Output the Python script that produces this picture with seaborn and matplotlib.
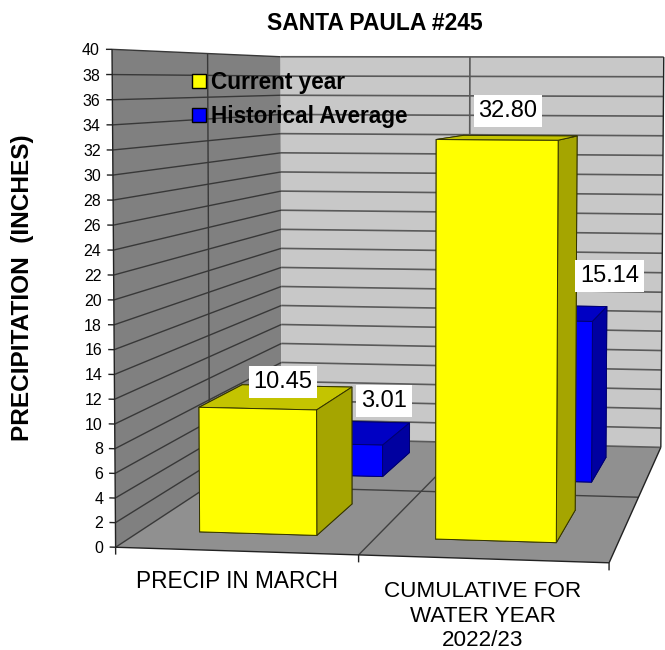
import numpy as np
import matplotlib
matplotlib.use("Agg")
import matplotlib.pyplot as plt
import seaborn as sns
from matplotlib.patches import Patch
from mpl_toolkits.mplot3d.art3d import Line3DCollection, Poly3DCollection

# data
categories = ["PRECIP IN MARCH", "CUMULATIVE FOR\nWATER YEAR\n2022/23"]
series_names = ["Current year", "Historical Average"]
current_year = [10.45, 32.80]
historical_avg = [3.01, 15.14]
y_ticks = list(range(0, 41, 2))

W, H = 665, 650
sns.set_theme(style="white")
plt.rcParams["font.family"] = ["Liberation Sans", "DejaVu Sans"]
plt.rcParams["text.color"] = "black"

yellow, blue = sns.color_palette(["#ffff00", "#0000ff"])
yellow_top, yellow_side = "#c4c400", "#a5a500"
blue_top, blue_side = "#0000c4", "#0000a0"

fig = plt.figure(figsize=(W / 100, H / 100), dpi=100, facecolor="white")
ax = fig.add_axes([-0.1, -0.1, 1.2, 1.2], projection="3d", computed_zorder=False)
ax.set_axis_off()
ax.patch.set_alpha(0)

# camera calibrated on the chart box: (category, depth, value) -> pixel
calib = [
    ((0, 0, 0), (116, 546)), ((0, 0, 40), (111.7, 50)),
    ((0, 2, 40), (281, 56.7)), ((0, 2, 0), (281, 439)),
    ((2, 2, 0), (661, 447)), ((2, 2, 40), (663, 57)),
    ((2, 0, 0), (610, 563)), ((1, 0, 0), (358, 556)),
    ((0, 1, 40), (207, 53)), ((0, 1, 0), (210, 485)),
    ((2, 1, 0), (638, 497)), ((1, 2, 40), (471, 57)),
]
rows = []
for (cx, cy, cz), (px, py) in calib:
    p = [cx, cy, cz / 40, 1]
    rows.append(p + [0, 0, 0, 0] + [-px * v for v in p])
    rows.append([0, 0, 0, 0] + p + [-py * v for v in p])
P = np.linalg.svd(np.array(rows, dtype=float))[2][-1].reshape(3, 4)
P[:, 2] /= 40
P /= P[2, 3]
depth_row = np.array([-1.0, 1.0, -0.02, 0.0])


def fixed_proj():
    to_data = ax.transData.inverted().get_matrix()
    flip = np.array([[1, 0, 0], [0, -1, H], [0, 0, 1.0]])
    xyw = to_data @ flip @ P
    return np.vstack([xyw[0], xyw[1], depth_row, xyw[2]])


def to_fig(x, y, z):
    px, py, w = P @ np.array([x, y, z, 1.0])
    return px / w / W, 1 - py / w / H


ax.get_proj = fixed_proj

# walls and floor
walls = [
    ([[(0, 0, 0), (0, 2, 0), (0, 2, 40), (0, 0, 40)]], "#808080"),
    ([[(0, 2, 0), (2, 2, 0), (2, 2, 40), (0, 2, 40)]], "#c8c8c8"),
    ([[(0, 0, 0), (2, 0, 0), (2, 2, 0), (0, 2, 0)]], "#909090"),
]
for verts, col in walls:
    ax.add_collection3d(Poly3DCollection(verts, facecolors=col, edgecolors="none", zorder=0.5))

left_segs = [[(0, 0, t), (0, 2, t)] for t in y_ticks] + [[(0, 1, 0), (0, 1, 40)]]
ax.add_collection3d(Line3DCollection(left_segs, colors="#383838", linewidths=1.0, zorder=1))
back_segs = [[(0, 2, t), (2, 2, t)] for t in y_ticks] + [[(1, 2, 0), (1, 2, 40)]]
ax.add_collection3d(Line3DCollection(back_segs, colors="#5a5a5a", linewidths=1.2, zorder=1))
floor_segs = [[(0, 1, 0), (2, 1, 0)], [(1, 0, 0), (1, 2, 0)]]
ax.add_collection3d(Line3DCollection(floor_segs, colors="#404040", linewidths=1.0, zorder=1))

edge_segs = [[(0, 0, 0), (2, 0, 0)], [(2, 0, 0), (2, 2, 0)], [(0, 0, 0), (0, 0, 40)], [(2, 2, 0), (2, 2, 40)]]
edge_segs += [[(-0.025, 0, t), (0, 0, t)] for t in y_ticks]
edge_segs += [[(c, 0, 0), (c, 0, -0.6)] for c in range(3)]
ax.add_collection3d(Line3DCollection(edge_segs, colors="#222222", linewidths=1.0, zorder=1))

for t in y_ticks:
    tx, ty = to_fig(-0.05, 0, t)
    fig.text(tx, ty - 1.5 / H, str(t), ha="right", va="center", fontsize=11.5)

# bars: blue row behind yellow row
bar_x = [0.25, 1.25]
bar_w = 0.5
bar_rows = [
    (historical_avg, 1.25, [blue, blue_top, blue, blue, blue_side, blue_side], "#000070", 3),
    (current_year, 0.25, [yellow, yellow_top, yellow, yellow, yellow_side, yellow_side], "#333300", 4),
]
for values, y0, colors, edge, z in bar_rows:
    for k, (x0, v) in enumerate(zip(bar_x, values)):
        ax.bar3d(x0, y0, 0, bar_w, 0.5, v, color=colors, shade=False,
                 edgecolor=edge, linewidth=0.7, zorder=z + k * 0.1)

# category labels, title, axis label
fig.text(237 / W, 1 - 582 / H, categories[0], ha="center", va="center", fontsize=16.3)
fig.text(483 / W, 1 - 616 / H, categories[1], ha="center", va="center", fontsize=16.2, linespacing=1.22)
fig.text(374.5 / W, 1 - 24 / H, "SANTA PAULA #245", ha="center", va="center", fontsize=16.5, fontweight="bold")
fig.text(23 / W, 1 - 288 / H, "PRECIPITATION  (INCHES)", rotation=90, ha="center", va="center",
         fontsize=17.6, fontweight="bold")

# value labels
label_pos = [(283, 382), (508, 111), (384, 401), (609.5, 276)]
for (lx, ly), v in zip(label_pos, current_year + historical_avg):
    fig.text(lx / W, 1 - ly / H, f"{v:.2f}", ha="center", va="center", fontsize=17,
             bbox=dict(facecolor="white", edgecolor="none", pad=3.6))

handles = [Patch(facecolor=yellow, edgecolor="black", lw=1.0, label=series_names[0]),
           Patch(facecolor=blue, edgecolor="black", lw=1.0, label=series_names[1])]
fig.legend(handles=handles, loc="upper left", bbox_to_anchor=(192 / W, 1 - 71 / H), frameon=False,
           prop=dict(size=16.3, weight="bold"), handlelength=0.6, handleheight=0.6,
           handletextpad=0.25, labelspacing=0.49, borderpad=0, borderaxespad=0)

fig.savefig("out.png", dpi=100)
